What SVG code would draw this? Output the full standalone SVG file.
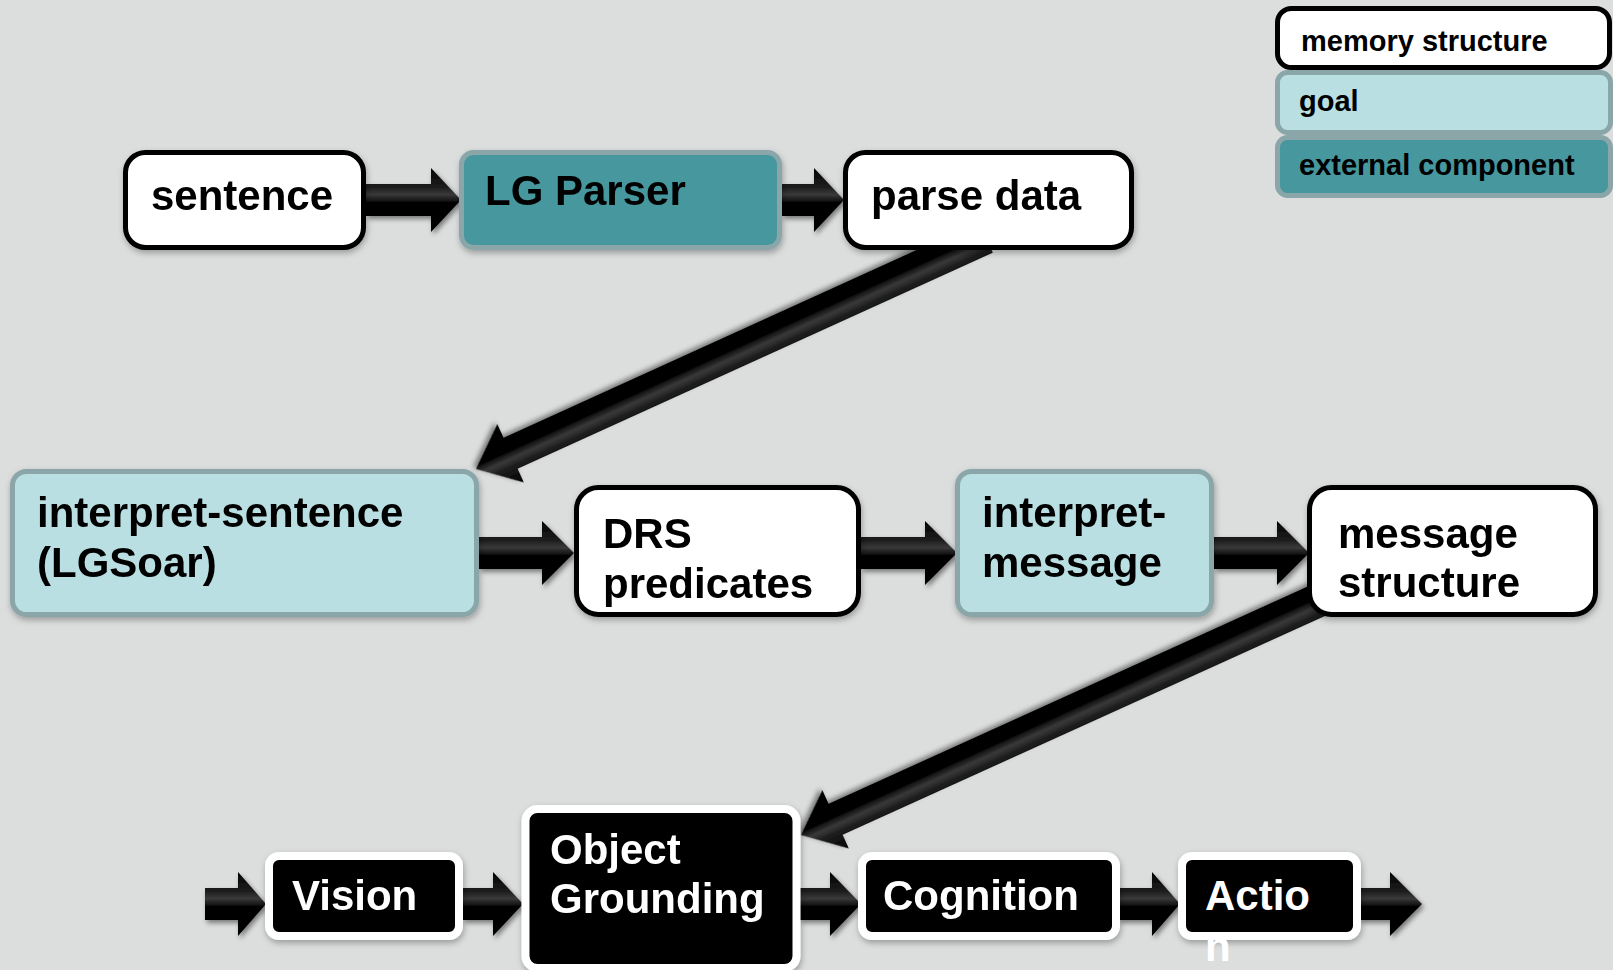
<svg xmlns="http://www.w3.org/2000/svg" width="1613" height="970" viewBox="0 0 1613 970">
<defs>
<style>
.t{font-family:"Liberation Sans",Arial,sans-serif;font-weight:bold;font-size:42px;fill:#000}
.tw{font-family:"Liberation Sans",Arial,sans-serif;font-weight:bold;font-size:42px;fill:#fff}
.tl{font-family:"Liberation Sans",Arial,sans-serif;font-weight:bold;font-size:29px;fill:#000}
.mem{fill:#fff;stroke:#000;stroke-width:5}
.goal{fill:#b9dfe2;stroke:#8aa6a8;stroke-width:5}
.ext{fill:#46979e;stroke:#8aa6a8;stroke-width:5}
.blk{fill:#000;stroke:#fff;stroke-width:8}
.arr{fill:url(#ag);filter:url(#as)}
</style>
<linearGradient id="ag" x1="0" y1="0" x2="0" y2="1">
<stop offset="0" stop-color="#000"/>
<stop offset="0.3" stop-color="#1e1e1e"/>
<stop offset="0.42" stop-color="#3a3a3a"/>
<stop offset="0.55" stop-color="#000"/>
<stop offset="1" stop-color="#050505"/>
</linearGradient>
<filter id="as" x="-10%" y="-30%" width="130%" height="170%">
<feDropShadow dx="2" dy="3" stdDeviation="2.5" flood-color="#000" flood-opacity="0.45"/>
</filter>
<filter id="bs" x="-10%" y="-10%" width="130%" height="140%">
<feDropShadow dx="1" dy="3" stdDeviation="3" flood-color="#000" flood-opacity="0.3"/>
</filter>
</defs>
<rect width="1613" height="970" fill="#dcdedd"/>

<g id="connectors">
<path class="arr" d="M366,184 H431 V168 L461,200 L431,232 V216 H366 Z"/>
<path class="arr" d="M782,184 H814 V168 L844,200 L814,232 V216 H782 Z"/>
<path class="arr" d="M479,537 H542 V521 L574,553 L542,585 V569 H479 Z"/>
<path class="arr" d="M861,537 H925 V521 L957,553 L925,585 V569 H861 Z"/>
<path class="arr" d="M1214,537 H1277 V521 L1309,553 L1277,585 V569 H1214 Z"/>
<path class="arr" d="M205,888 H238 V872 L266,904 L238,936 V920 H205 Z"/>
<path class="arr" d="M463,888 H493 V872 L523,904 L493,936 V920 H463 Z"/>
<path class="arr" d="M799,888 H830 V872 L861,904 L830,936 V920 H799 Z"/>
<path class="arr" d="M1118,888 H1152 V872 L1180,904 L1152,936 V920 H1118 Z"/>
<path class="arr" d="M1359,888 H1390 V872 L1422,904 L1390,936 V920 H1359 Z"/>
<path class="arr" transform="translate(476,469) rotate(155.55)" d="M-560,-17 H-38 V-32 L0,0 L-38,32 V17 H-560 Z"/>
<path class="arr" transform="translate(801,835) rotate(155.6)" d="M-570,-17 H-38 V-32 L0,0 L-38,32 V17 H-570 Z"/>
</g>

<g id="legend-memory">
<rect class="mem" x="1277.5" y="8.5" width="332" height="59" rx="14"/>
<text class="tl" x="1301" y="51">memory structure</text>
</g>
<g id="legend-goal">
<rect class="goal" x="1277.5" y="72.5" width="333" height="60" rx="10"/>
<text class="tl" x="1299" y="111">goal</text>
</g>
<g id="legend-external">
<rect class="ext" x="1277.5" y="137.5" width="333" height="58" rx="10"/>
<text class="tl" x="1299" y="175">external component</text>
</g>

<g id="sentence" filter="url(#bs)">
<rect class="mem" x="125.5" y="152.5" width="238" height="95" rx="20"/>
<text class="t" x="151" y="210">sentence</text>
</g>
<g id="lg-parser" filter="url(#bs)">
<rect class="ext" x="461.5" y="152.5" width="318" height="95" rx="12"/>
<text class="t" x="485" y="205">LG Parser</text>
</g>
<g id="parse-data" filter="url(#bs)">
<rect class="mem" x="845.5" y="152.5" width="286" height="95" rx="20"/>
<text class="t" x="871" y="210">parse data</text>
</g>

<g id="interpret-sentence" filter="url(#bs)">
<rect class="goal" x="12.5" y="471.5" width="464" height="143" rx="14"/>
<text class="t" x="37" y="527">interpret-sentence</text>
<text class="t" x="37" y="577">(LGSoar)</text>
</g>
<g id="drs-predicates" filter="url(#bs)">
<rect class="mem" x="576.5" y="487.5" width="282" height="127" rx="22"/>
<text class="t" x="603" y="548">DRS</text>
<text class="t" x="603" y="598">predicates</text>
</g>
<g id="interpret-message" filter="url(#bs)">
<rect class="goal" x="957.5" y="471.5" width="254" height="143" rx="14"/>
<text class="t" x="982" y="527">interpret-</text>
<text class="t" x="982" y="577">message</text>
</g>
<g id="message-structure" filter="url(#bs)">
<rect class="mem" x="1309.5" y="487.5" width="286" height="127" rx="22"/>
<text class="t" x="1338" y="548">message</text>
<text class="t" x="1338" y="597">structure</text>
</g>

<g id="vision" filter="url(#bs)">
<rect class="blk" x="269" y="856" width="190" height="80" rx="10"/>
<text class="tw" x="292" y="910">Vision</text>
</g>
<g id="object-grounding" filter="url(#bs)">
<rect class="blk" x="525.5" y="809" width="271" height="159" rx="12"/>
<text class="tw" x="550" y="864">Object</text>
<text class="tw" x="550" y="913">Grounding</text>
</g>
<g id="cognition" filter="url(#bs)">
<rect class="blk" x="862" y="856" width="254" height="80" rx="10"/>
<text class="tw" x="883" y="910">Cognition</text>
</g>
<g id="action">
<rect class="blk" x="1182" y="856" width="175" height="80" rx="10" filter="url(#bs)"/>
<text class="tw" x="1205" y="910">Actio</text>
<text class="tw" x="1205" y="961">n</text>
</g>
</svg>
